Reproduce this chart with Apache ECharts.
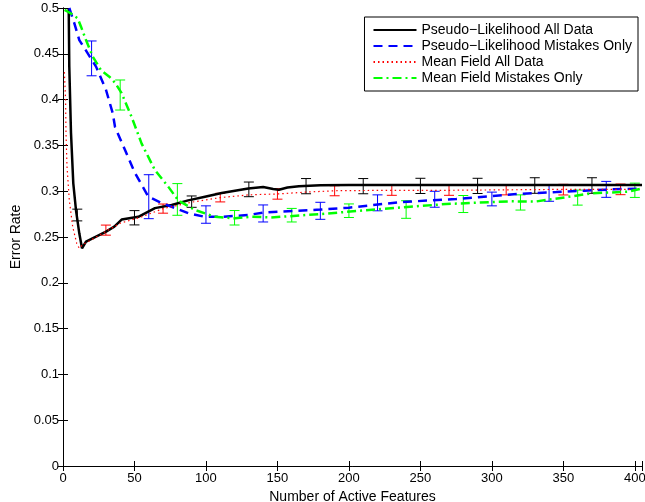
<!DOCTYPE html>
<html>
<head>
<meta charset="utf-8">
<script src="https://cdn.jsdelivr.net/npm/echarts@6/dist/echarts.min.js"></script>
<style>
  html, body { margin: 0; padding: 0; background: #fff; }
  #chart { width: 645px; height: 502px; }
</style>
</head>
<body>
<div id="chart"></div>
<script>
// Error rate versus number of active features, four training schemes.

const xTicks = [0, 50, 100, 150, 200, 250, 300, 350, 400];
const yTicks = [0, 0.05, 0.1, 0.15, 0.2, 0.25, 0.3, 0.35, 0.4, 0.45, 0.5];

// Pseudo-Likelihood, all data
const plAllX = [4, 4.4, 5.6, 7.2, 9.1, 11.4, 13.3, 16.1, 23.1, 30.1, 35.9, 41, 52.7, 64.3, 76, 87.6, 99.3, 111, 129.6, 140, 147, 151, 157, 165, 180, 200, 250, 300, 350, 405];
const plAllY = [0.5, 0.436, 0.3635, 0.3086, 0.279, 0.254, 0.2377, 0.245, 0.2504, 0.2558, 0.2613, 0.269, 0.272, 0.2815, 0.285, 0.29, 0.294, 0.298, 0.303, 0.3045, 0.3025, 0.3015, 0.304, 0.3055, 0.3065, 0.3068, 0.3068, 0.3068, 0.3068, 0.3068];
const plAllErrX = [10, 50, 90, 130, 170, 210, 250, 290, 330, 370];
const plAllErrMean = [0.274, 0.271, 0.2886, 0.302, 0.3055, 0.3055, 0.3058, 0.3058, 0.3062, 0.3062];
const plAllErrHalf = [0.0064, 0.0078, 0.0062, 0.008, 0.0083, 0.0083, 0.0083, 0.0083, 0.0085, 0.0085];

// Pseudo-Likelihood, mistakes only
const plMisX = [4.4, 8, 11.4, 17.3, 23.1, 30.1, 34.8, 36.4, 43.4, 50.3, 59.7, 69, 76, 87.6, 99.3, 111, 129.6, 140, 180, 200, 235, 275, 318, 345, 365, 385, 405];
const plMisY = [0.5, 0.483, 0.465, 0.4505, 0.436, 0.4105, 0.385, 0.37, 0.345, 0.32, 0.294, 0.287, 0.283, 0.276, 0.272, 0.272, 0.274, 0.2767, 0.28, 0.282, 0.288, 0.2915, 0.297, 0.299, 0.3006, 0.302, 0.303];
const plMisErrX = [20, 60, 100, 140, 180, 220, 260, 300, 340, 380];
const plMisErrMean = [0.445, 0.294, 0.2745, 0.2757, 0.2786, 0.2873, 0.2912, 0.2915, 0.298, 0.302];
const plMisErrHalf = [0.019, 0.024, 0.0095, 0.0093, 0.0093, 0.0087, 0.0087, 0.0075, 0.009, 0.0087];

// Mean Field, all data
const mfAllX = [1, 1.1, 1.8, 2.1, 2.8, 4.4, 6.8, 9.6, 11.4, 14, 20, 27.7, 40, 55, 70, 90, 110, 130, 150, 170, 190, 230, 270, 310, 350, 405];
const mfAllY = [0.43, 0.425, 0.3996, 0.3635, 0.327, 0.2904, 0.261, 0.243, 0.2377, 0.242, 0.247, 0.254, 0.265, 0.272, 0.281, 0.288, 0.293, 0.296, 0.297, 0.299, 0.3005, 0.301, 0.301, 0.3015, 0.302, 0.302];
const mfAllErrX = [30, 70, 110, 150, 190, 230, 270, 310, 350, 390];
const mfAllErrMean = [0.2575, 0.281, 0.293, 0.297, 0.3005, 0.301, 0.301, 0.3015, 0.3017, 0.302];
const mfAllErrHalf = [0.0055, 0.005, 0.0047, 0.0057, 0.0055, 0.0055, 0.0055, 0.0055, 0.0058, 0.0058];

// Mean Field, mistakes only
const mfMisX = [1.1, 5.6, 10.3, 12.6, 16.1, 20.8, 26.6, 32.4, 36.6, 41, 48, 55, 64.3, 73.6, 80.6, 92.3, 106.3, 120.3, 132, 145, 180, 223, 268, 313, 330, 351, 370, 395, 405];
const mfMisY = [0.498, 0.494, 0.4887, 0.4796, 0.465, 0.447, 0.432, 0.425, 0.418, 0.407, 0.381, 0.352, 0.323, 0.305, 0.29, 0.2795, 0.272, 0.2704, 0.2722, 0.2713, 0.275, 0.2806, 0.286, 0.289, 0.2886, 0.2933, 0.2977, 0.2995, 0.303];
const mfMisErrX = [40, 80, 120, 160, 200, 240, 280, 320, 360, 400];
const mfMisErrMean = [0.405, 0.291, 0.271, 0.2738, 0.2787, 0.280, 0.286, 0.2877, 0.293, 0.301];
const mfMisErrHalf = [0.0164, 0.0173, 0.0079, 0.0074, 0.0074, 0.0096, 0.0093, 0.0083, 0.0082, 0.0078];

const names = [
  'Pseudo\u2212Likelihood All Data',
  'Pseudo\u2212Likelihood Mistakes Only',
  'Mean Field All Data',
  'Mean Field Mistakes Only'
];
const colors = ['#000000', '#0000ff', '#ff0000', '#00ff00'];

const zip = (xs, ys) => xs.map((x, i) => [x, ys[i]]);

function lineSeries(name, xs, ys, color, width, type) {
  return {
    name: name,
    type: 'line',
    data: zip(xs, ys),
    showSymbol: false,
    symbol: 'none',
    smooth: false,
    clip: true,
    lineStyle: { color: color, width: width, type: type },
    itemStyle: { color: color },
    z: 3,
    silent: true
  };
}

function errorSeries(xs, means, halves, color) {
  return {
    type: 'custom',
    data: xs.map((x, i) => [x, means[i] - halves[i], means[i] + halves[i]]),
    z: 2,
    silent: true,
    renderItem: function (params, api) {
      const lo = api.coord([api.value(0), api.value(1)]);
      const hi = api.coord([api.value(0), api.value(2)]);
      const cap = 5;
      const style = { stroke: color, lineWidth: 1, fill: null };
      return {
        type: 'group',
        children: [
          { type: 'line', shape: { x1: lo[0], y1: lo[1], x2: hi[0], y2: hi[1] }, style: style },
          { type: 'line', shape: { x1: lo[0] - cap, y1: lo[1], x2: lo[0] + cap, y2: lo[1] }, style: style },
          { type: 'line', shape: { x1: hi[0] - cap, y1: hi[1], x2: hi[0] + cap, y2: hi[1] }, style: style }
        ]
      };
    }
  };
}

const font = 'Liberation Sans, Arial, Helvetica, sans-serif';
const axisLine = { show: true, lineStyle: { color: '#000', width: 1 } };
const innerTick = { show: true, inside: true, length: 5, lineStyle: { color: '#000', width: 1 } };

const chart = echarts.init(document.getElementById('chart'), null, { renderer: 'canvas' });
chart.setOption({
  animation: false,
  backgroundColor: '#fff',
  textStyle: { fontFamily: font },
  grid: { left: 63, right: 3, top: 8, bottom: 36, containLabel: false, outerBoundsMode: 'none' },
  legend: {
    orient: 'vertical',
    right: 7,
    top: 17,
    data: names,
    itemWidth: 43,
    itemHeight: 10,
    itemGap: 2,
    padding: [6, 6, 6, 8],
    backgroundColor: '#fff',
    borderColor: '#000',
    borderWidth: 1,
    borderRadius: 0,
    itemStyle: { opacity: 0 },
    textStyle: { fontFamily: font, fontSize: 14, color: '#000' }
  },
  xAxis: [
    {
      type: 'value', min: 0, max: 405, interval: 50,
      name: 'Number of Active Features', nameLocation: 'middle', nameGap: 17,
      nameTextStyle: { fontFamily: font, fontSize: 14, color: '#000' },
      axisLine: axisLine, axisTick: innerTick, splitLine: { show: false },
      axisLabel: {
        color: '#000', fontFamily: font, fontSize: 13, margin: 6,
        formatter: v => (xTicks.indexOf(v) >= 0 ? String(v) : '')
      }
    },
    {
      type: 'value', position: 'top', min: 0, max: 405, interval: 50,
      axisLine: axisLine, axisTick: innerTick, splitLine: { show: false },
      axisLabel: { show: false }
    }
  ],
  yAxis: [
    {
      type: 'value', min: 0, max: 0.5, interval: 0.05,
      name: 'Error Rate', nameLocation: 'middle', nameGap: 35, nameRotate: 90,
      nameTextStyle: { fontFamily: font, fontSize: 14, color: '#000' },
      axisLine: axisLine, axisTick: innerTick, splitLine: { show: false },
      axisLabel: {
        color: '#000', fontFamily: font, fontSize: 13, margin: 4,
        formatter: v => {
          const t = yTicks.find(k => Math.abs(k - v) < 1e-9);
          return t === undefined ? '' : String(Math.round(t * 100) / 100);
        }
      }
    },
    {
      type: 'value', position: 'right', min: 0, max: 0.5, interval: 0.05,
      axisLine: axisLine, axisTick: innerTick, splitLine: { show: false },
      axisLabel: { show: false }
    }
  ],
  series: [
    errorSeries(plAllErrX, plAllErrMean, plAllErrHalf, colors[0]),
    errorSeries(plMisErrX, plMisErrMean, plMisErrHalf, colors[1]),
    errorSeries(mfAllErrX, mfAllErrMean, mfAllErrHalf, colors[2]),
    errorSeries(mfMisErrX, mfMisErrMean, mfMisErrHalf, colors[3]),
    lineSeries(names[0], plAllX, plAllY, colors[0], 2.5, 'solid'),
    lineSeries(names[1], plMisX, plMisY, colors[1], 2.5, [9, 6]),
    lineSeries(names[2], mfAllX, mfAllY, colors[2], 1.2, [1.5, 3]),
    lineSeries(names[3], mfMisX, mfMisY, colors[3], 2.5, [9, 4, 2, 4])
  ]
});
</script>
</body>
</html>
